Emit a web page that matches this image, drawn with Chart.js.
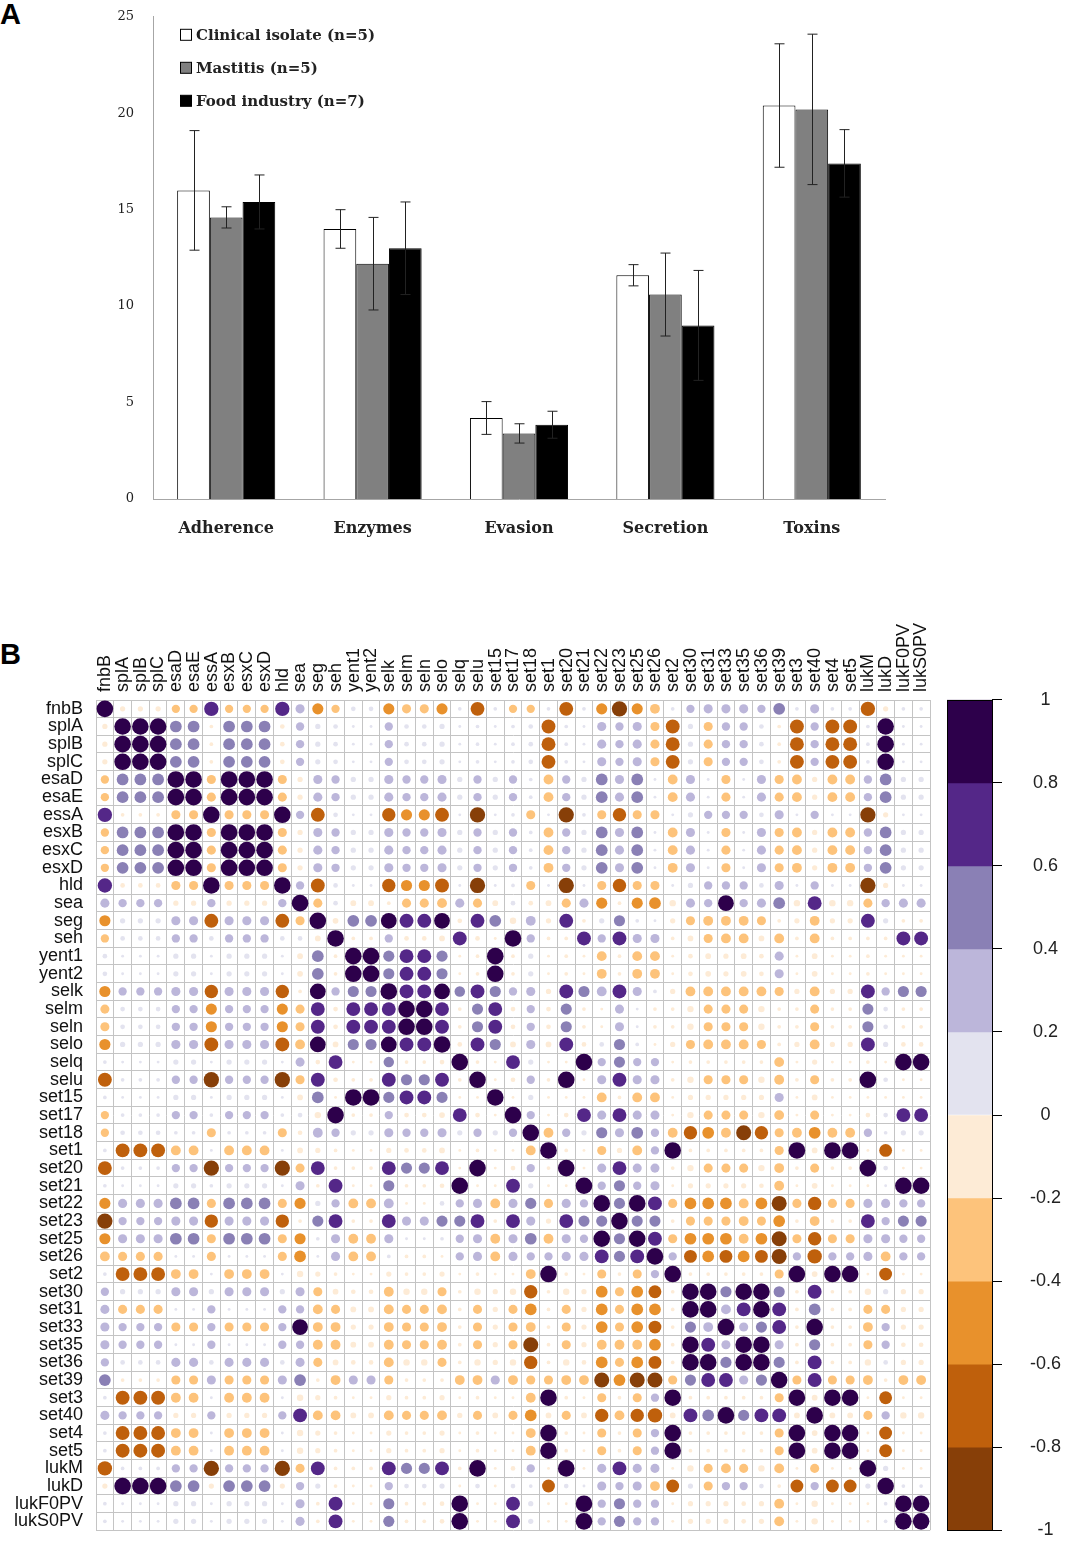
<!DOCTYPE html>
<html>
<head>
<meta charset="utf-8">
<script src="https://cdn.jsdelivr.net/npm/chart.js@4.4.1/dist/chart.umd.min.js"></script>
<style>
  body { margin: 0; background: #fff; }
  #page { position: relative; width: 1067px; height: 1544px; overflow: hidden; }
  .panel { position: absolute; font-family: "Liberation Sans", Arial, sans-serif; font-weight: bold; font-size: 29px; line-height: 1; color: #000; }
  canvas { position: absolute; }
</style>
</head>
<body>
<div id="page">
  <div class="panel" style="left:0;top:0">A</div>
  <div class="panel" style="left:0;top:640px">B</div>
  <canvas id="barChart" width="1067" height="570" style="left:0;top:-10px"></canvas>
  <canvas id="corrChart" width="940" height="954" style="left:0;top:600px"></canvas>
  <canvas id="scaleChart" width="167" height="908" style="left:900px;top:661px"></canvas>
</div>
<script>
// ---- panel A: mean number of virulence genes per category ----
const categories = ['Adherence', 'Enzymes', 'Evasion', 'Secretion', 'Toxins'];
const clinicalMean = [16.0, 14.0, 4.2, 11.6, 20.4];
const clinicalSd   = [3.1, 1.0, 0.85, 0.55, 3.2];
const mastitisMean = [14.6, 12.2, 3.4, 10.6, 20.2];
const mastitisSd   = [0.55, 2.4, 0.5, 2.15, 3.9];
const foodMean     = [15.4, 13.0, 3.85, 9.0, 17.4];
const foodSd       = [1.4, 2.4, 0.7, 2.85, 1.75];

// ---- panel B: gene correlation matrix (lower triangle, row by row) ----
const geneLabels = ['fnbB', 'splA', 'splB', 'splC', 'esaD', 'esaE', 'essA', 'esxB', 'esxC', 'esxD',
  'hld', 'sea', 'seg', 'seh', 'yent1', 'yent2', 'selk', 'selm', 'seln', 'selo',
  'selq', 'selu', 'set15', 'set17', 'set18', 'set1', 'set20', 'set21', 'set22', 'set23',
  'set25', 'set26', 'set2', 'set30', 'set31', 'set33', 'set35', 'set36', 'set39', 'set3',
  'set40', 'set4', 'set5', 'lukM', 'lukD', 'lukF0PV', 'lukS0PV'];

const corrLower = [
  [1],
  [-0.1, 1],
  [-0.1, 1, 1],
  [-0.1, 1, 1, 1],
  [-0.25, 0.5, 0.5, 0.5, 1],
  [-0.25, 0.5, 0.5, 0.5, 1, 1],
  [0.75, -0.05, -0.05, -0.05, -0.3, -0.3, 1],
  [-0.25, 0.5, 0.5, 0.5, 1, 1, -0.3, 1],
  [-0.25, 0.5, 0.5, 0.5, 1, 1, -0.3, 1, 1],
  [-0.25, 0.5, 0.5, 0.5, 1, 1, -0.3, 1, 1, 1],
  [0.75, -0.08, -0.08, -0.08, -0.3, -0.3, 1, -0.3, -0.3, -0.3, 1],
  [0.3, 0.25, 0.25, 0.25, -0.1, -0.1, 0.25, -0.1, -0.1, -0.1, 0.25, 1],
  [-0.45, 0.1, 0.1, 0.1, 0.3, 0.3, -0.7, 0.3, 0.3, 0.3, -0.7, -0.3, 1],
  [-0.25, 0.08, 0.08, 0.08, 0.25, 0.25, 0.08, 0.25, 0.25, 0.25, 0.08, 0.08, -0.12, 1],
  [0.08, 0.03, 0.03, 0.03, 0.1, 0.1, 0.03, 0.1, 0.1, 0.1, 0.03, -0.12, 0.5, -0.05, 1],
  [0.08, 0.03, 0.03, 0.03, 0.1, 0.1, 0.03, 0.1, 0.1, 0.1, 0.03, -0.12, 0.5, -0.05, 1, 1],
  [-0.45, 0.25, 0.25, 0.25, 0.3, 0.3, -0.65, 0.3, 0.3, 0.3, -0.65, -0.05, 0.9, 0.25, 0.45, 0.45, 1],
  [-0.3, 0.08, 0.08, 0.08, 0.25, 0.25, -0.45, 0.25, 0.25, 0.25, -0.45, -0.3, 0.7, -0.08, 0.7, 0.7, 0.7, 1],
  [-0.3, 0.08, 0.08, 0.08, 0.25, 0.25, -0.45, 0.25, 0.25, 0.25, -0.45, -0.3, 0.7, -0.08, 0.7, 0.7, 0.7, 1, 1],
  [-0.45, 0.1, 0.1, 0.1, 0.3, 0.3, -0.7, 0.3, 0.3, 0.3, -0.7, -0.35, 0.9, -0.12, 0.45, 0.45, 0.9, 0.7, 0.7, 1],
  [0.05, 0.03, 0.03, 0.03, 0.1, 0.1, 0.03, 0.1, 0.1, 0.1, 0.03, 0.3, -0.08, 0.7, -0.03, -0.03, 0.4, -0.05, -0.05, -0.08, 1],
  [-0.7, 0.05, 0.05, 0.05, 0.25, 0.25, -0.85, 0.25, 0.25, 0.25, -0.85, -0.3, 0.7, -0.08, -0.05, -0.05, 0.7, 0.45, 0.45, 0.7, -0.05, 1],
  [0.05, 0.03, 0.03, 0.03, 0.1, 0.1, 0.03, 0.1, 0.1, 0.1, 0.03, -0.12, 0.5, -0.03, 1, 1, 0.45, 0.7, 0.7, 0.45, -0.03, -0.03, 1],
  [-0.25, 0.05, 0.05, 0.05, 0.25, 0.25, 0.05, 0.25, 0.25, 0.25, 0.05, 0.08, -0.15, 1, -0.05, -0.05, 0.25, -0.08, -0.08, -0.12, 0.7, -0.08, -0.03, 1],
  [-0.25, 0.08, 0.08, 0.08, 0.05, 0.05, -0.3, 0.05, 0.05, 0.05, -0.3, -0.08, 0.35, 0.25, 0.1, 0.1, 0.3, 0.25, 0.25, 0.3, 0.1, 0.25, 0.1, 0.25, 1],
  [0.05, -0.7, -0.7, -0.7, -0.35, -0.35, 0.03, -0.35, -0.35, -0.35, 0.03, -0.12, -0.1, -0.05, -0.03, -0.03, -0.1, -0.08, -0.08, -0.12, -0.03, -0.05, -0.03, -0.03, -0.35, 1],
  [-0.7, 0.05, 0.05, 0.05, 0.25, 0.25, -0.85, 0.25, 0.25, 0.25, -0.85, -0.3, 0.7, -0.05, -0.05, -0.05, 0.7, 0.45, 0.45, 0.7, -0.03, 1, -0.03, -0.08, 0.25, -0.05, 1],
  [0.05, 0.03, 0.03, 0.03, 0.1, 0.1, 0.05, 0.1, 0.1, 0.1, 0.03, 0.3, -0.05, 0.7, -0.03, -0.03, 0.45, -0.05, -0.05, -0.08, 1, -0.03, -0.03, 0.7, 0.1, -0.03, -0.03, 1],
  [-0.45, 0.3, 0.3, 0.3, 0.5, 0.5, -0.3, 0.5, 0.5, 0.5, -0.3, -0.45, 0.1, 0.25, -0.35, -0.35, 0.35, -0.03, -0.03, 0.08, 0.25, 0.3, -0.35, 0.3, 0.45, -0.3, 0.3, 0.25, 1],
  [-0.85, 0.25, 0.25, 0.25, 0.3, 0.3, -0.65, 0.3, 0.3, 0.3, -0.65, -0.05, 0.45, 0.7, -0.05, -0.05, 0.7, 0.3, 0.3, 0.45, 0.45, 0.7, -0.05, 0.7, 0.3, -0.1, 0.7, 0.45, 0.45, 1],
  [-0.45, 0.3, 0.3, 0.3, 0.5, 0.5, -0.3, 0.5, 0.5, 0.5, -0.3, -0.45, 0.05, 0.3, -0.35, -0.35, 0.3, 0.03, 0.03, 0.05, 0.25, 0.3, -0.35, 0.3, 0.5, -0.35, 0.3, 0.25, 1, 0.45, 1],
  [-0.35, -0.3, -0.3, -0.3, 0.03, 0.03, -0.3, 0.03, 0.03, 0.03, -0.3, -0.5, 0.03, 0.3, -0.35, -0.35, 0.05, -0.05, -0.05, -0.03, 0.25, 0.3, -0.35, 0.3, 0.25, 0.25, 0.3, 0.3, 0.7, 0.45, 0.7, 1],
  [0.05, -0.7, -0.7, -0.7, -0.35, -0.35, 0.03, -0.35, -0.35, -0.35, 0.03, -0.15, -0.1, -0.05, -0.03, -0.03, -0.1, -0.05, -0.05, -0.1, -0.03, -0.05, -0.03, -0.03, -0.35, 1, -0.05, -0.03, -0.3, -0.05, -0.3, 0.25, 1],
  [0.25, 0.1, 0.1, 0.1, 0.3, 0.3, 0.1, 0.3, 0.3, 0.3, 0.1, 0.3, -0.3, -0.12, -0.08, -0.08, -0.35, -0.15, -0.15, -0.3, -0.05, -0.15, -0.1, -0.15, -0.65, -0.05, -0.15, -0.1, -0.5, -0.3, -0.5, -0.6, -0.05, 1],
  [0.3, -0.3, -0.3, -0.3, 0.03, 0.03, 0.25, 0.03, 0.03, 0.03, 0.25, 0.25, -0.35, -0.3, -0.12, -0.12, -0.35, -0.3, -0.3, -0.35, -0.05, -0.3, -0.1, -0.3, -0.5, -0.05, -0.3, -0.1, -0.5, -0.3, -0.5, -0.5, -0.05, 1, 1],
  [0.3, 0.25, 0.25, 0.25, -0.3, -0.3, 0.25, -0.3, -0.3, -0.3, 0.25, 0.9, -0.35, -0.35, -0.1, -0.1, -0.35, -0.3, -0.3, -0.35, -0.05, -0.3, -0.1, -0.3, -0.35, -0.05, -0.3, -0.1, -0.5, -0.3, -0.5, -0.6, -0.05, 0.45, 0.35, 1],
  [0.3, 0.25, 0.25, 0.25, 0.03, 0.03, 0.25, 0.03, 0.03, 0.03, 0.25, 0.25, -0.35, -0.35, -0.12, -0.12, -0.35, -0.3, -0.3, -0.35, -0.05, -0.3, -0.1, -0.3, -0.82, -0.05, -0.3, -0.1, -0.35, -0.35, -0.35, -0.5, -0.05, 1, 0.7, 0.3, 1],
  [0.25, 0.08, 0.08, 0.08, 0.3, 0.3, 0.08, 0.3, 0.3, 0.3, 0.08, 0.3, -0.3, -0.12, -0.08, -0.08, -0.35, -0.15, -0.15, -0.3, -0.05, -0.15, -0.1, -0.15, -0.65, -0.05, -0.15, -0.08, -0.5, -0.3, -0.5, -0.6, -0.05, 1, 1, 0.45, 1, 1],
  [0.5, -0.05, -0.05, -0.05, -0.3, -0.3, 0.3, -0.3, -0.3, -0.3, 0.3, 0.5, -0.05, -0.35, 0.3, 0.3, -0.3, -0.05, -0.05, -0.05, -0.35, -0.35, 0.3, -0.35, -0.3, -0.3, -0.35, -0.35, -0.82, -0.5, -0.82, -0.82, -0.3, 0.45, 0.7, 0.7, 0.3, 0.45, 1],
  [0.05, -0.7, -0.7, -0.7, -0.35, -0.35, 0.03, -0.35, -0.35, -0.35, 0.03, -0.15, -0.1, -0.05, -0.03, -0.03, -0.1, -0.05, -0.05, -0.1, -0.03, -0.05, -0.03, -0.03, -0.35, 1, -0.05, -0.03, -0.3, -0.05, -0.3, 0.25, 1, -0.05, -0.05, -0.05, -0.05, -0.05, -0.3, 1],
  [0.3, 0.25, 0.25, 0.25, -0.1, -0.1, 0.25, -0.1, -0.1, -0.1, 0.25, 0.7, -0.35, -0.35, -0.12, -0.12, -0.35, -0.3, -0.3, -0.35, -0.1, -0.3, -0.12, -0.3, -0.5, -0.12, -0.3, -0.12, -0.65, -0.35, -0.65, -0.75, -0.12, 0.7, 0.5, 1, 0.45, 0.7, 0.7, -0.12, 1],
  [0.05, -0.7, -0.7, -0.7, -0.35, -0.35, 0.03, -0.35, -0.35, -0.35, 0.03, -0.15, -0.1, -0.05, -0.03, -0.03, -0.1, -0.05, -0.05, -0.1, -0.03, -0.05, -0.03, -0.03, -0.35, 1, -0.05, -0.03, -0.3, -0.05, -0.3, 0.25, 1, -0.05, -0.05, -0.05, -0.05, -0.05, -0.3, 1, -0.12, 1],
  [0.05, -0.7, -0.7, -0.7, -0.35, -0.35, 0.03, -0.35, -0.35, -0.35, 0.03, -0.15, -0.1, -0.05, -0.03, -0.03, -0.1, -0.05, -0.05, -0.1, -0.03, -0.05, -0.03, -0.03, -0.35, 1, -0.05, -0.03, -0.3, -0.05, -0.3, 0.25, 1, -0.05, -0.05, -0.05, -0.05, -0.05, -0.3, 1, -0.12, 1, 1],
  [-0.75, 0.05, 0.05, 0.05, 0.25, 0.25, -0.85, 0.25, 0.25, 0.25, -0.85, -0.3, 0.7, -0.05, -0.05, -0.05, 0.7, 0.45, 0.45, 0.7, -0.05, 1, -0.03, -0.08, 0.25, -0.03, 1, -0.03, 0.3, 0.7, 0.3, 0.3, -0.03, -0.15, -0.3, -0.35, -0.3, -0.15, -0.35, -0.03, -0.3, -0.03, -0.03, 1],
  [-0.1, 1, 1, 1, 0.5, 0.5, -0.1, 0.5, 0.5, 0.5, -0.1, 0.25, 0.1, -0.05, -0.03, -0.03, 0.25, 0.08, 0.08, 0.1, -0.03, 0.08, -0.03, 0.08, 0.05, -0.6, 0.08, 0.03, 0.3, 0.25, 0.3, -0.35, -0.6, 0.1, -0.3, 0.25, 0.25, 0.08, -0.05, -0.6, 0.25, -0.6, -0.6, 0.1, 1],
  [0.05, 0.03, 0.03, 0.03, 0.1, 0.1, 0.03, 0.1, 0.1, 0.1, 0.03, 0.3, -0.05, 0.7, -0.03, -0.03, 0.45, -0.05, -0.05, -0.08, 1, -0.03, -0.03, 0.7, 0.1, -0.03, -0.03, 1, 0.25, 0.45, 0.25, 0.25, -0.03, -0.1, -0.1, -0.1, -0.08, -0.1, -0.35, -0.03, -0.15, -0.03, -0.03, -0.03, 0.05, 1],
  [0.05, 0.03, 0.03, 0.03, 0.1, 0.1, 0.03, 0.1, 0.1, 0.1, 0.03, 0.3, -0.05, 0.7, -0.03, -0.03, 0.45, -0.05, -0.05, -0.08, 1, -0.03, -0.03, 0.7, 0.1, -0.03, -0.03, 1, 0.25, 0.45, 0.25, 0.25, -0.03, -0.1, -0.1, -0.1, -0.08, -0.1, -0.35, -0.03, -0.15, -0.03, -0.03, -0.03, 0.05, 1, 1]
];

// colour scale, top (1) to bottom (-1), one colour per 0.2 step
const palette = ['#2d004b', '#542788', '#8a80b5', '#bcb6da', '#e3e3ef',
                 '#fdebd6', '#fdc37b', '#e8912c', '#bf600c', '#873f08'];
const colorbarTicks = [1, 0.8, 0.6, 0.4, 0.2, 0, -0.2, -0.4, -0.6, -0.8, -1];

Chart.defaults.animation = false;
Chart.defaults.events = [];
Chart.defaults.plugins.legend.display = false;
Chart.defaults.plugins.tooltip.enabled = false;

function binColor(v) {
  let k = Math.floor((1 - v) / 0.2);
  if (k < 0) k = 0;
  if (k > 9) k = 9;
  return palette[k];
}

function corrAt(i, j) {
  return i >= j ? corrLower[i][j] : corrLower[j][i];
}

// ---------- A: bar chart with error bars ----------
const errorBars = {
  id: 'errorBars',
  afterDatasetsDraw(chart) {
    const ctx = chart.ctx;
    const y = chart.scales.y;
    ctx.save();
    ctx.strokeStyle = '#222';
    ctx.lineWidth = 1;
    chart.data.datasets.forEach((ds, i) => {
      chart.getDatasetMeta(i).data.forEach((bar, j) => {
        const top = y.getPixelForValue(ds.data[j] + ds.errors[j]);
        const bot = y.getPixelForValue(ds.data[j] - ds.errors[j]);
        const x = Math.round(bar.x) + 0.5;
        ctx.beginPath();
        ctx.moveTo(x, top); ctx.lineTo(x, bot);
        ctx.moveTo(x - 5, top); ctx.lineTo(x + 5, top);
        ctx.moveTo(x - 5, bot); ctx.lineTo(x + 5, bot);
        ctx.stroke();
      });
    });
    ctx.restore();
  }
};

// legend sits inside the plot, top left, one entry per line
const boxLegend = {
  id: 'boxLegend',
  afterDraw(chart) {
    const ctx = chart.ctx;
    const x0 = chart.chartArea.left + 27;
    const y0 = chart.chartArea.top + 18;
    ctx.save();
    ctx.font = 'bold 15px "DejaVu Serif", serif';
    ctx.textBaseline = 'middle';
    chart.data.datasets.forEach((ds, i) => {
      const cy = y0 + i * 33;
      ctx.fillStyle = ds.backgroundColor;
      ctx.fillRect(x0 + 0.5, cy - 5.5, 11, 11);
      ctx.strokeStyle = '#000';
      ctx.lineWidth = 1;
      ctx.strokeRect(x0 + 0.5, cy - 5.5, 11, 11);
      ctx.fillStyle = '#222';
      ctx.fillText(ds.label, x0 + 16, cy + 1);
    });
    ctx.restore();
  }
};

function barSet(label, means, sds, fill) {
  return {
    label: label, data: means, errors: sds,
    backgroundColor: fill, borderColor: '#000', borderWidth: 1,
    categoryPercentage: 0.67, barPercentage: 1
  };
}

new Chart(document.getElementById('barChart'), {
  type: 'bar',
  data: {
    labels: categories,
    datasets: [
      barSet('Clinical isolate (n=5)', clinicalMean, clinicalSd, '#ffffff'),
      barSet('Mastitis (n=5)', mastitisMean, mastitisSd, '#808080'),
      barSet('Food industry (n=7)', foodMean, foodSd, '#000000')
    ]
  },
  options: {
    responsive: false,
    layout: { padding: { top: 10, right: 182 } },
    scales: {
      x: {
        grid: { display: false, drawTicks: false },
        border: { color: '#a6a6a6' },
        ticks: { padding: 20, color: '#222', font: { family: '"DejaVu Serif", serif', size: 16, weight: 'bold' } },
        afterFit: s => { s.height = 61; }
      },
      y: {
        min: 0, max: 25,
        grid: { display: false, drawTicks: false },
        border: { color: '#a6a6a6' },
        ticks: { stepSize: 5, padding: 19, color: '#222', font: { family: '"DejaVu Serif", serif', size: 13 } },
        afterFit: s => { s.width = 153; }
      }
    }
  },
  plugins: [errorBars, boxLegend]
});

// ---------- B: correlation matrix ----------
const points = [];
const pointColors = [];
geneLabels.forEach((rowName, i) => {
  geneLabels.forEach((colName, j) => {
    const v = corrAt(i, j);
    points.push({ x: colName, y: rowName, r: 8.3 * Math.sqrt(Math.abs(v)) });
    pointColors.push(binColor(v));
  });
});

const labelFont = { family: '"Liberation Sans", Arial, sans-serif', size: 18 };

new Chart(document.getElementById('corrChart'), {
  type: 'bubble',
  data: { datasets: [{ data: points, backgroundColor: pointColors, borderWidth: 0 }] },
  options: {
    responsive: false,
    layout: { padding: { right: 10, bottom: 10 } },
    scales: {
      x: {
        type: 'category', labels: geneLabels, position: 'top', offset: true,
        grid: { offset: true, color: '#c4c4c4', drawTicks: false },
        border: { color: '#c4c4c4' },
        ticks: { autoSkip: false, minRotation: 90, maxRotation: 90, padding: 8, labelOffset: 22, color: '#111', font: labelFont },
        afterFit: s => { s.height = 100; }
      },
      y: {
        type: 'category', labels: geneLabels, offset: true,
        grid: { offset: true, color: '#c4c4c4', drawTicks: false },
        border: { color: '#c4c4c4' },
        ticks: { autoSkip: false, padding: 13, color: '#111', font: labelFont },
        afterFit: s => { s.width = 96; }
      }
    }
  }
});

// ---------- colour key ----------
const frame = {
  id: 'frame',
  afterDatasetsDraw(chart) {
    const a = chart.chartArea;
    const ctx = chart.ctx;
    ctx.save();
    ctx.strokeStyle = '#000';
    ctx.lineWidth = 1;
    ctx.strokeRect(Math.round(a.left) + 0.5, Math.round(a.top) + 0.5, Math.round(a.width), Math.round(a.height));
    ctx.restore();
  }
};

new Chart(document.getElementById('scaleChart'), {
  type: 'bar',
  data: {
    labels: [''],
    datasets: palette.map((c, k) => ({
      data: [[colorbarTicks[k + 1], colorbarTicks[k]]],
      backgroundColor: c, borderWidth: 0, grouped: false,
      categoryPercentage: 1, barPercentage: 1
    }))
  },
  options: {
    responsive: false,
    layout: { padding: { left: 47, top: 10, bottom: 10 } },
    scales: {
      x: { display: false },
      y: {
        position: 'right', min: -1, max: 1,
        afterBuildTicks: s => { s.ticks = colorbarTicks.map(v => ({ value: v })); },
        grid: { drawOnChartArea: false, drawTicks: true, tickLength: 10, color: '#000' },
        border: { display: true, color: '#000' },
        ticks: { padding: 28, crossAlign: 'center', color: '#222', font: labelFont, callback: v => String(v) },
        afterFit: s => { s.width = 75; }
      }
    }
  },
  plugins: [frame]
});
</script>
</body>
</html>
